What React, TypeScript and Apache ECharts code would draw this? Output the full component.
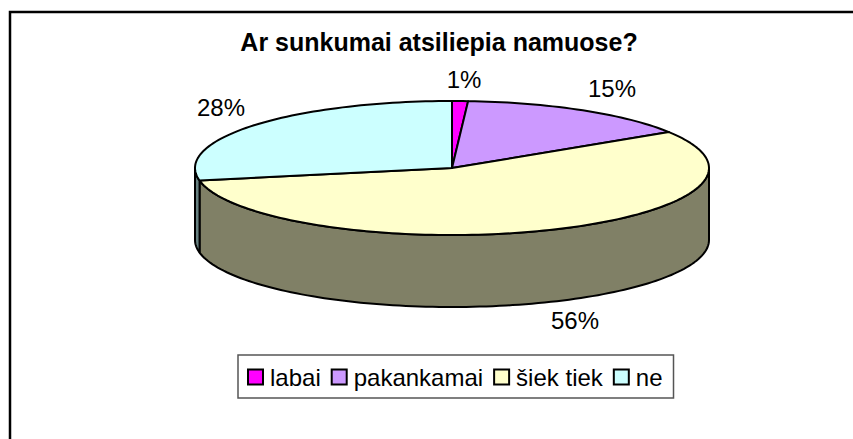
import React, { useEffect, useRef } from "react";
import * as echarts from "echarts";

const chartTitle = "Ar sunkumai atsiliepia namuose?";
const categories = ["labai", "pakankamai", "šiek tiek", "ne"];
const shares = [1, 15, 56, 28];
const topColors = ["#ff00ff", "#cc99ff", "#ffffcc", "#ccffff"];
const sideColors = ["#800080", "#664d80", "#808066", "#668080"];

// layout of the squashed disc and its outside labels
const disc = { cx: 452, cy: 168, rx: 257, ry: 67, depth: 72 };
const labelAnchors = [
  [464, 79],
  [612, 88],
  [575, 320],
  [221, 107],
];

const total = shares.reduce((a, b) => a + b, 0);
const startShares = shares.map((_, i) => shares.slice(0, i).reduce((a, b) => a + b, 0));

const rim = (deg: number, dy = 0) => {
  const t = (deg * Math.PI) / 180;
  return [disc.cx + disc.rx * Math.sin(t), disc.cy - disc.ry * Math.cos(t) + dy];
};

const arcPoints = (a: number, b: number, dy = 0) => {
  const n = Math.max(2, Math.ceil(Math.abs(b - a) / 1.5));
  const pts: number[][] = [];
  for (let i = 0; i <= n; i++) pts.push(rim(a + ((b - a) * i) / n, dy));
  return pts;
};

const stroke = { stroke: "#000", lineWidth: 2, lineJoin: "round" as const };

const makeRender = (i: number) => (_: any, api: any) => {
  const a = (api.value(0) / total) * 360;
  const b = a + (api.value(1) / total) * 360;
  const children: any[] = [];
  const fa = Math.max(a, 90);
  const fb = Math.min(b, 270);
  if (fb > fa) {
    const front = arcPoints(fa, fb);
    const back = arcPoints(fb, fa, disc.depth);
    children.push({
      type: "polygon",
      shape: { points: [...front, ...back] },
      style: { fill: sideColors[i], ...stroke },
    });
  }
  children.push({
    type: "polygon",
    shape: { points: [[disc.cx, disc.cy], ...arcPoints(a, b)] },
    style: { fill: topColors[i], ...stroke },
  });
  children.push({
    type: "text",
    style: {
      x: labelAnchors[i][0],
      y: labelAnchors[i][1],
      text: `${api.value(1)}%`,
      fill: "#000",
      font: '24px "Liberation Sans"',
      align: "center",
      verticalAlign: "middle",
    },
  });
  return { type: "group", children };
};

export default function App() {
  const ref = useRef<HTMLDivElement>(null);
  useEffect(() => {
    const chart = echarts.init(ref.current!, null, { renderer: "svg" });
    chart.setOption({
      animation: false,
      backgroundColor: "#fff",
      title: {
        text: chartTitle,
        left: 434,
        top: 24,
        textAlign: "center",
        textStyle: { fontFamily: "Liberation Sans", fontWeight: "bold", fontSize: 25, color: "#000" },
      },
      legend: {
        left: 238,
        top: 355,
        data: categories,
        orient: "horizontal",
        icon: "rect",
        itemWidth: 15,
        itemHeight: 15,
        itemGap: 10,
        padding: [10, 11, 9, 9],
        borderColor: "#555",
        borderWidth: 1.5,
        textStyle: { fontFamily: "Liberation Sans", fontSize: 24, color: "#000", padding: [0, 0, 0, 2] },
        selectedMode: false,
      },
      graphic: [
        {
          type: "polyline",
          shape: { points: [[10, 439], [10, 12], [853, 12]] },
          style: { stroke: "#000", lineWidth: 2.5, fill: "none" },
        },
      ],
      series: categories.map((name, i) => ({
        type: "custom",
        name,
        coordinateSystem: "none",
        data: [[startShares[i], shares[i]]],
        itemStyle: { color: topColors[i], borderColor: "#000", borderWidth: 2 },
        renderItem: makeRender(i),
        silent: true,
      })),
    });
    return () => chart.dispose();
  }, []);
  return <div ref={ref} style={{ position: "absolute", left: 0, top: 0, width: 853, height: 439 }} />;
}
